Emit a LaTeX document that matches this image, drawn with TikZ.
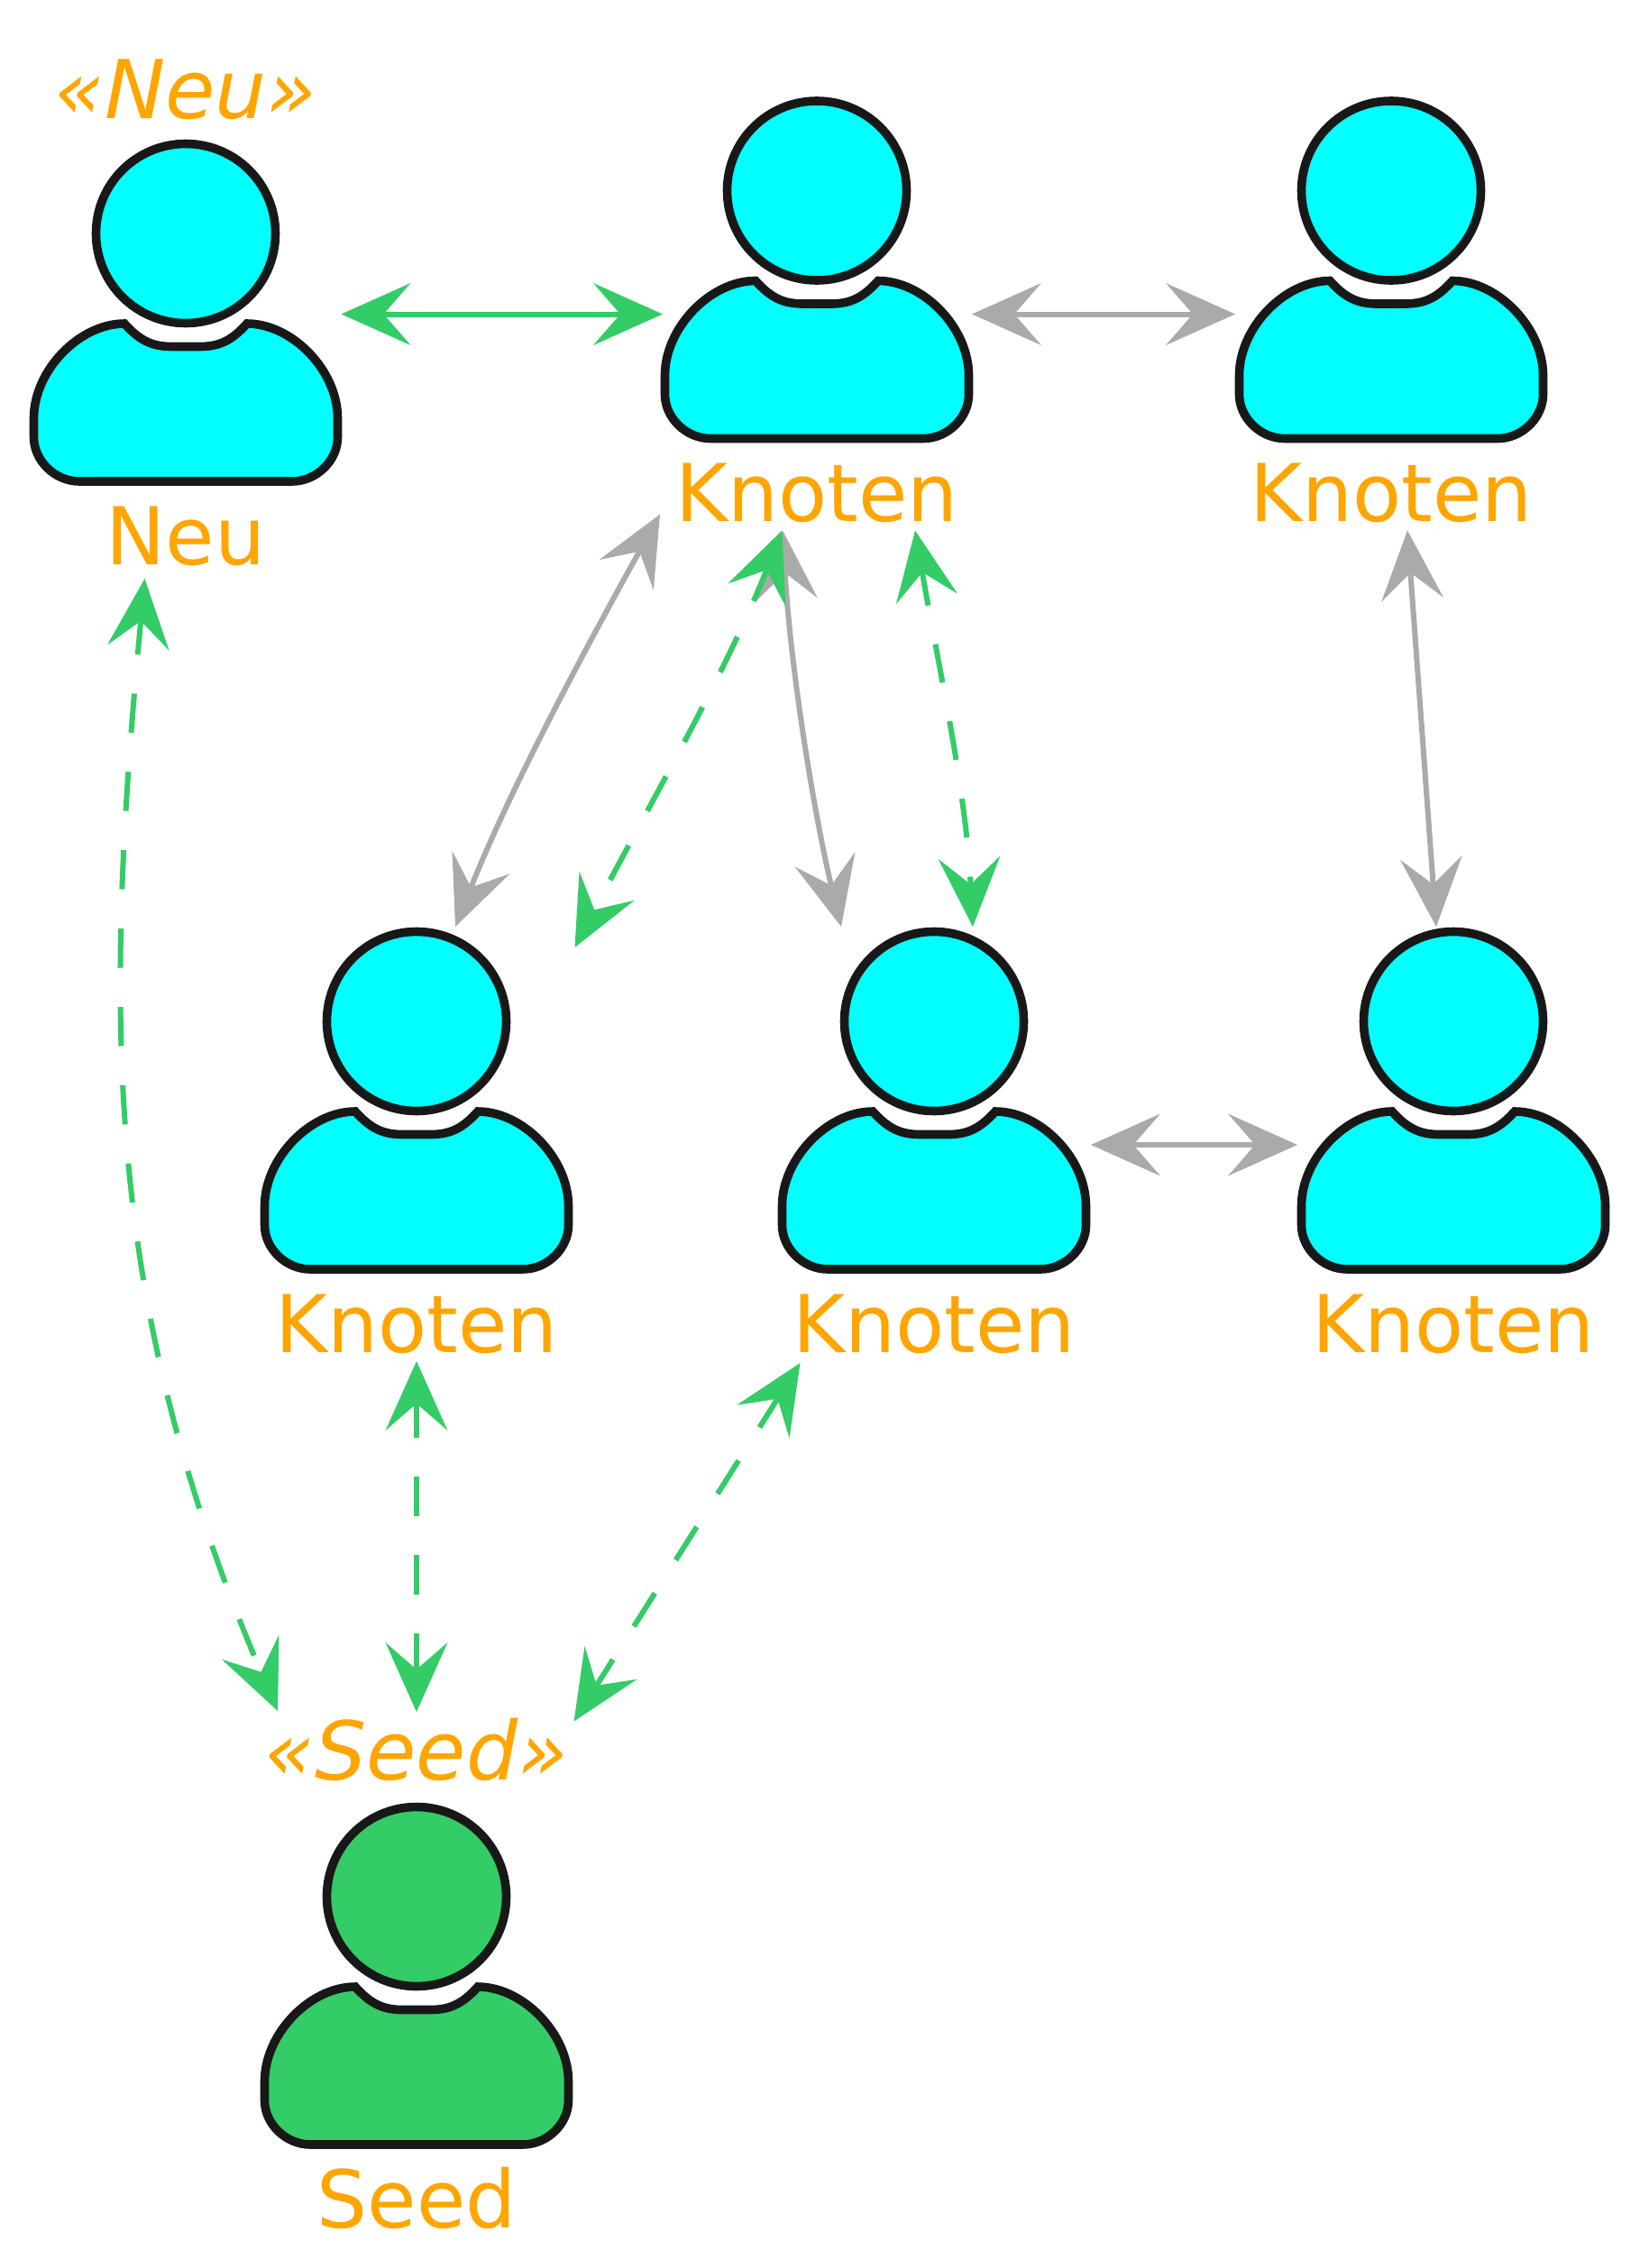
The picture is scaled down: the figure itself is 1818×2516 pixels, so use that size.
\documentclass[tikz,border=0pt]{standalone}
\usepackage{fontspec}
\setmainfont{DejaVu Sans}
\usetikzlibrary{arrows.meta,calc}
\definecolor{ink}{HTML}{181818}
\definecolor{nodecyan}{HTML}{00FFFF}
\definecolor{seedgreen}{HTML}{33CC66}
\definecolor{linkgray}{HTML}{AAAAAA}
\definecolor{labelorange}{HTML}{FFA500}
\tikzset{
  pics/person/.style={code={
    \path[draw=ink,fill=#1,line width=9.6pt] (0,0) circle[radius=99.5pt];
    \path[draw=ink,fill=#1,line width=9.6pt,line join=miter]
      (-68,100) .. controls (-50,120) and (-36,125.5) .. (-15,125.5) -- (15,125.5)
      .. controls (36,125.5) and (50,120) .. (68,100)
      .. controls (118,100) and (168.5,152) .. (168.5,205) -- (168.5,226)
      .. controls (168.5,252) and (145,275) .. (118,275) -- (-118,275)
      .. controls (-145,275) and (-168.5,252) .. (-168.5,226) -- (-168.5,205)
      .. controls (-168.5,152) and (-118,100) .. (-68,100) -- cycle;
  }},
  personbox/.style={rectangle,draw=none,fill=none,minimum width=340pt,minimum height=480pt,inner sep=0pt,outer sep=0pt},
  caption/.style={text=labelorange,font=\fontsize{88.5}{100}\selectfont,anchor=base,inner sep=0pt},
  stereo/.style={text=labelorange,font=\fontsize{90}{100}\selectfont\itshape,anchor=base,inner sep=0pt},
  twotip/.style={{Stealth[length=77pt,width=69pt,inset=30pt,line width=0pt]}-{Stealth[length=77pt,width=69pt,inset=30pt,line width=0pt]}},
  graylink/.style={twotip,draw=linkgray,line width=6pt},
  greenlink/.style={twotip,draw=seedgreen,line width=6pt},
  greendash/.style={greenlink,dash pattern=on 43.5pt off 43.5pt,dash phase=6pt},
}
\newcommand{\personat}[5]{% name, x, head y, fill, label
  \node[personbox] (#1) at (#2,#3+137) {};
  \path (#2,#3) pic {person={#4}};
  \node[caption] (#1label) at (#2,#3+367) {#5};
}
\begin{document}
\begin{tikzpicture}[x=1pt,y=-1pt]
\useasboundingbox (0,0) rectangle (1818,2516);
\fill[white] (0,0) rectangle (1818,2516);

\personat{neu}{206}{259}{nodecyan}{Neu}
\personat{ka}{906}{211.5}{nodecyan}{Knoten}
\personat{kb}{1543}{211.5}{nodecyan}{Knoten}
\personat{kc}{462}{1133}{nodecyan}{Knoten}
\personat{kd}{1036}{1133}{nodecyan}{Knoten}
\personat{ke}{1612}{1133}{nodecyan}{Knoten}
\personat{seed}{462}{2104}{seedgreen}{Seed}
\node[stereo] (neustereo) at (206,131) {«Neu»};
\node[stereo] (seedstereo) at (462,1974) {«Seed»};

% horizontal links
\draw[greenlink] ([xshift=2.5pt,yshift=47.5pt]neu.east) -- ([xshift=-1pt]ka.west);
\draw[graylink] ([xshift=2pt]ka.east) -- ([xshift=-3pt]kb.west);
\draw[graylink] ([xshift=4pt]kd.east) -- ([xshift=-3pt]ke.west);

% grey links
\draw[graylink] ([xshift=-174pt,yshift=18pt]ka.south) .. controls (648,722) and (566,875) .. ([xshift=43pt,yshift=2pt]kc.north);
\draw[graylink] ([xshift=-38pt]ka.south) .. controls (877,745) and (904,908) .. ([xshift=-103pt,yshift=2pt]kd.north);
\draw[graylink] ([xshift=18pt]kb.south) -- ([xshift=-19pt,yshift=2pt]ke.north);

% green dashed links
\draw[greendash] ([xshift=-38.6pt]ka.south) .. controls (806,745) and (719,895) .. ([xshift=175.5pt,yshift=-21pt]kc.north);
\draw[greendash] ([xshift=109pt]ka.south) .. controls (1040,735) and (1071,873) .. ([xshift=43pt,yshift=2pt]kd.north);
\draw[greendash] ([xshift=-45.5pt,yshift=-6pt]neu.south) .. controls (116,1120) and (112,1440) .. ([xshift=-154pt,yshift=103pt]seed.north);
\draw[greendash] (kc.south) -- ([yshift=102pt]seed.north);
\draw[greendash] ([xshift=-148.5pt,yshift=-2pt]kd.south) -- ([xshift=174.6pt,yshift=91.5pt]seed.north);
\end{tikzpicture}
\end{document}
